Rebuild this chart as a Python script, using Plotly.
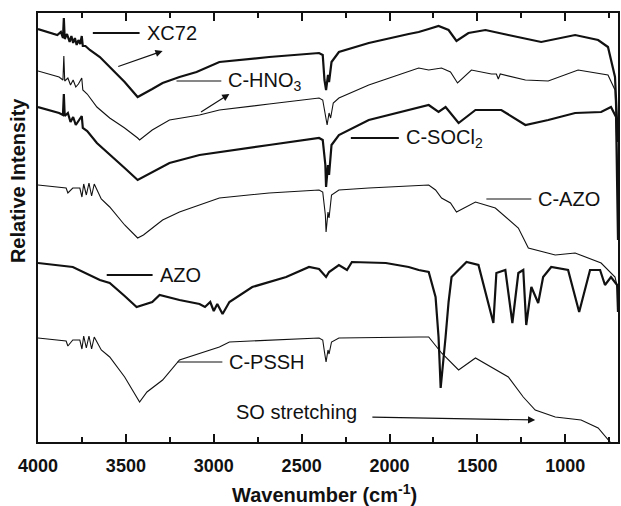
import plotly.graph_objects as go

# ---- data (wavenumber cm^-1, relative intensity in arbitrary units) ----
xc72_wn = [4000, 3960, 3920, 3890, 3870, 3858, 3853, 3848, 3835, 3820, 3810, 3800, 3790, 3780, 3770, 3760, 3751, 3745,
           3730, 3705, 3648, 3592, 3507, 3433, 3400, 3350, 3291, 3195, 3098, 2968, 2685, 2401, 2380, 2370, 2361, 2350,
           2344, 2330, 2288, 2118, 1891, 1834, 1777, 1721, 1664, 1619, 1551, 1454, 1324, 1137, 944, 813, 757, 717, 700]
xc72_y = [413, 411, 409, 407, 410, 404, 424, 403, 408, 400, 406, 399, 404, 397, 402, 398, 406, 396,
          396, 392, 385, 375, 360, 345, 348, 353, 359, 365, 370, 380, 385, 389, 387, 362, 352, 367,
          360, 380, 390, 399, 408, 410, 413, 416, 412, 401, 409, 412, 407, 400, 407, 402, 395, 365, 300]

hno3_wn = [4000, 3960, 3920, 3880, 3858, 3853, 3848, 3830, 3815, 3800, 3785, 3770, 3751, 3745, 3720, 3665, 3592,
           3507, 3433, 3422, 3350, 3252, 3081, 2968, 2685, 2401, 2380, 2365, 2355, 2344, 2335, 2320, 2288, 2118,
           1834, 1777, 1704, 1653, 1613, 1534, 1420, 1392, 1381, 1370, 1227, 1097, 927, 757, 717, 700]
hno3_y = [371, 369, 367, 365, 362, 386, 361, 364, 357, 362, 355, 358, 364, 352, 348, 335, 324,
          314, 304, 302, 312, 322, 327, 332, 338, 344, 342, 327, 317, 329, 324, 339, 344, 357,
          374, 372, 374, 370, 359, 372, 368, 368, 363, 368, 362, 361, 372, 367, 352, 262]

socl2_wn = [4000, 3960, 3920, 3880, 3858, 3853, 3848, 3830, 3815, 3800, 3785, 3770, 3751, 3745, 3720, 3665, 3592,
            3507, 3433, 3350, 3252, 3081, 2968, 2685, 2401, 2380, 2365, 2361, 2350, 2344, 2330, 2288, 2118, 1891,
            1834, 1777, 1721, 1681, 1607, 1511, 1364, 1227, 1097, 944, 796, 740, 711, 700]
socl2_y = [335, 333, 331, 329, 327, 348, 326, 329, 320, 325, 317, 321, 326, 314, 311, 299, 287,
           274, 262, 270, 279, 287, 290, 297, 304, 302, 277, 255, 277, 267, 297, 307, 322, 332,
           335, 337, 330, 335, 319, 332, 332, 317, 322, 329, 330, 335, 325, 202]

cazo_wn = [4000, 3932, 3875, 3840, 3830, 3802, 3762, 3750, 3740, 3725, 3710, 3695, 3680, 3665, 3640, 3592, 3507,
           3433, 3400, 3291, 3195, 2968, 2685, 2401, 2380, 2365, 2361, 2350, 2344, 2330, 2288, 2118, 1834, 1777,
           1738, 1704, 1653, 1619, 1511, 1398, 1267, 1210, 1057, 944, 796, 717, 700]
cazo_y = [257, 256, 255, 254, 249, 254, 254, 245, 258, 247, 259, 246, 258, 252, 243, 235, 217,
          204, 207, 222, 230, 244, 249, 252, 250, 227, 210, 230, 224, 247, 252, 254, 257, 257,
          252, 244, 239, 230, 240, 234, 214, 194, 187, 189, 179, 165, 152]

azo_wn = [4000, 3900, 3802, 3648, 3592, 3507, 3439, 3350, 3308, 3195, 3081, 3050, 3020, 3000, 2980, 2950, 2928,
          2911, 2781, 2588, 2458, 2401, 2361, 2344, 2288, 2242, 2214, 2021, 1891, 1834, 1777, 1738, 1721, 1709,
          1681, 1664, 1647, 1562, 1494, 1437, 1409, 1392, 1341, 1301, 1267, 1239, 1222, 1193, 1154, 1126, 1080,
          984, 921, 859, 802, 774, 740, 705, 700]
azo_y = [179, 177, 175, 162, 159, 146, 135, 140, 147, 142, 138, 135, 140, 131, 138, 128, 134,
         140, 155, 165, 175, 173, 165, 170, 177, 172, 180, 179, 175, 172, 170, 145, 105, 54,
         105, 140, 165, 180, 177, 139, 119, 169, 172, 119, 169, 172, 117, 155, 139, 165, 175,
         172, 130, 172, 172, 157, 165, 157, 130]

pssh_wn = [4000, 3932, 3875, 3840, 3830, 3802, 3762, 3750, 3740, 3725, 3710, 3695, 3680, 3665, 3640, 3592, 3507,
           3422, 3380, 3291, 3195, 2968, 2911, 2401, 2380, 2370, 2361, 2350, 2344, 2330, 2288, 1834, 1777, 1704,
           1607, 1511, 1420, 1324, 1239, 1171, 1057, 910, 813, 745, 700]
pssh_y = [104, 103, 102, 101, 96, 102, 102, 93, 106, 94, 106, 93, 105, 100, 92, 85, 65,
          40, 50, 62, 82, 95, 100, 104, 102, 90, 80, 92, 88, 100, 104, 105, 105, 89,
          72, 84, 75, 65, 45, 32, 25, 22, 14, 0, -20]

series = [
    ("XC72", xc72_wn, xc72_y, 2.2),
    ("C-HNO3", hno3_wn, hno3_y, 1.1),
    ("C-SOCl2", socl2_wn, socl2_y, 2.2),
    ("C-AZO", cazo_wn, cazo_y, 1.1),
    ("AZO", azo_wn, azo_y, 2.2),
    ("C-PSSH", pssh_wn, pssh_y, 1.1),
]

# label: (line start wn, line end wn, y, text, line width)
labels = [
    (3688, 3422, 409, "XC72", 2.0),
    (3212, 2957, 361, "C-HNO<sub>3</sub>", 1.1),
    (2220, 1947, 304, "C-SOCl<sub>2</sub>", 2.0),
    (1449, 1193, 243, "C-AZO", 1.1),
    (3609, 3348, 167, "AZO", 2.0),
    (3206, 2951, 80, "C-PSSH", 1.1),
]

fig = go.Figure()
for name, wn, y, w in series:
    fig.add_trace(go.Scatter(x=wn, y=y, mode="lines", name=name,
                             line=dict(color="#111111", width=w),
                             showlegend=False, hoverinfo="skip"))

font_ann = dict(family="Liberation Sans, Arial, sans-serif", size=20, color="#111")
for x0, x1, yy, txt, w in labels:
    fig.add_shape(type="line", x0=x0, x1=x1, y0=yy, y1=yy, xref="x", yref="y",
                  line=dict(color="#111", width=w))
    fig.add_annotation(x=x1, y=yy, xref="x", yref="y", text=txt, showarrow=False,
                       xanchor="left", yanchor="middle", xshift=5, font=font_ann)

fig.add_annotation(x=2883, y=30, xref="x", yref="y", text="SO stretching", showarrow=False,
                   xanchor="left", yanchor="middle", font=font_ann)

# arrows (head, tail)
arrows = [((3291, 391), (3552, 375)), ((2911, 348), (3081, 329)), ((1171, 22), (2106, 25))]
for (hx, hy), (tx, ty) in arrows:
    fig.add_annotation(x=hx, y=hy, ax=tx, ay=ty, xref="x", yref="y", axref="x", ayref="y",
                       text="", showarrow=True, arrowhead=2, arrowsize=1.2, arrowwidth=1.2,
                       arrowcolor="#111")

fig.add_annotation(x=(325 - 38) / 582, y=(442 - 493) / 429, xref="paper", yref="paper",
                   text="<b>Wavenumber (cm<sup>-1</sup>)</b>", showarrow=False,
                   xanchor="center", yanchor="middle",
                   font=dict(family="Liberation Sans, Arial, sans-serif", size=20, color="#111"))
fig.add_annotation(x=(18 - 38) / 582, y=(442 - 181) / 429, xref="paper", yref="paper",
                   text="<b>Relative Intensity</b>", showarrow=False, textangle=-90,
                   xanchor="center", yanchor="middle",
                   font=dict(family="Liberation Sans, Arial, sans-serif", size=20, color="#111"))

fig.update_layout(
    width=621, height=506,
    margin=dict(l=38, r=1, t=13, b=64),
    plot_bgcolor="white", paper_bgcolor="white",
    xaxis=dict(range=[4000, 700], tickvals=[4000, 3500, 3000, 2500, 2000, 1500, 1000],
               ticks="inside", ticklen=8, tickwidth=1.5, tickcolor="#111",
               minor=dict(tickvals=[3750, 3250, 2750, 2250, 1750, 1250, 750], ticks="inside",
                          ticklen=5, tickwidth=1.5, tickcolor="#111"),
               showline=True, linecolor="#111", linewidth=2, mirror="ticks",
               showgrid=False, zeroline=False, ticklabelstandoff=6,
               tickfont=dict(family="Liberation Sans, Arial, sans-serif", size=18, color="#111",
                             weight="bold")),
    yaxis=dict(range=[0, 429], showticklabels=False, ticks="", showgrid=False, zeroline=False,
               showline=True, linecolor="#111", linewidth=2, mirror=True),
)

fig.write_html("out.html")
